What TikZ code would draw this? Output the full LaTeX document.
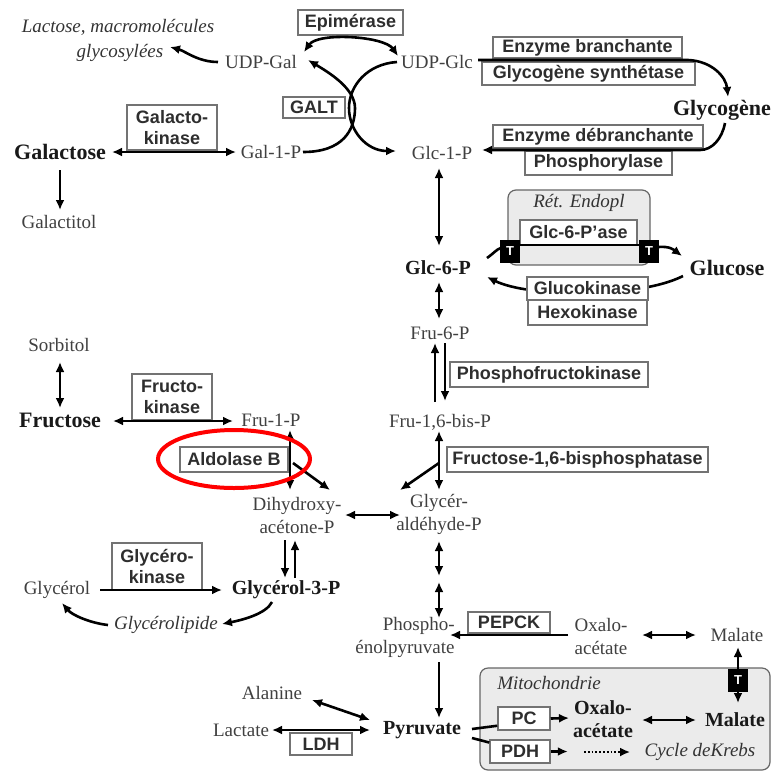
\documentclass[tikz,border=0pt]{standalone}
\usepackage{fontspec}
\setmainfont{Liberation Serif}
\setsansfont{Liberation Sans}
\usetikzlibrary{arrows.meta,calc,shapes.geometric}
\newcommand\fmet{\fontsize{19}{23}\selectfont}
\newcommand\fbig{\fontsize{22}{26}\selectfont\bfseries}
\newcommand\fbold{\fontsize{20}{23}\selectfont\bfseries}
\newcommand\fenz{\sffamily\bfseries\fontsize{18}{21}\selectfont}
\newcommand\fital{\fontsize{19}{23}\selectfont\itshape}
\begin{document}
\begin{tikzpicture}[x=1pt,y=-1pt,
  met/.style={font=\fmet, text=black!75, inner sep=1pt, align=center},
  metb/.style={font=\fbold, text=black!90, inner sep=1pt, align=center},
  metB/.style={font=\fbig, text=black!90, inner sep=1pt},
  metit/.style={font=\fital, text=black!80, inner sep=1pt},
  enzbox/.style={draw=black!55, line width=1.5pt, fill=white, font=\fenz, text=black!82, inner sep=0pt, align=center},
  tbox/.style={fill=black, text=white, font=\sffamily\bfseries\fontsize{13}{13}\selectfont, inner sep=0pt, minimum width=20pt, minimum height=23pt},
  compart/.style={draw=black!60, line width=1.2pt, fill=black!8, rounded corners=8pt, inner sep=0pt},
  arr/.style={line width=2.6pt, -{Latex[length=10pt,width=9pt]}},
  darr/.style={line width=2.6pt, {Latex[length=10pt,width=9pt]}-{Latex[length=10pt,width=9pt]}},
  wire/.style={line width=2.6pt},
  dotarr/.style={line width=1.8pt, dotted, -{Latex[length=10pt,width=9pt]}}
]
\useasboundingbox (0,0) rectangle (776,774);

% compartments
\node[compart, minimum width=142pt, minimum height=75pt] (er) at (579,227.5) {};
\node[compart, minimum width=290pt, minimum height=102pt] (mito) at (625,719) {};
\node[metit] (ertxt) at (579,203) {Rét. Endopl};
\node[metit] (mitotxt) at (549,683) {Mitochondrie};

% metabolites
\node[metit] (lac) at (118,27) {Lactose, macromolécules};
\node[metit] (glyco) at (120,53) {glycosylées};
\node[met] (udpgal) at (261,62) {UDP-Gal};
\node[met] (udpglc) at (437,62) {UDP-Glc};
\node[met] (gal1p) at (271,152) {Gal-1-P};
\node[metB] (galactose) at (60,152) {Galactose};
\node[met] (galactitol) at (59,222) {Galactitol};
\node[metB] (glycogen) at (722,110) {Glycogène};
\node[met] (glc1p) at (442,153) {Glc-1-P};
\node[metb] (glc6p) at (438,268) {Glc-6-P};
\node[metB] (glucose) at (727,268) {Glucose};
\node[met] (fru6p) at (440,333) {Fru-6-P};
\node[met] (fru16bp) at (440,422) {Fru-1,6-bis-P};
\node[met] (gap) at (439,514) {Glycér-\\aldéhyde-P};
\node[met] (dhap) at (297,515) {Dihydroxy-\\acétone-P};
\node[met] (fru1p) at (271,420) {Fru-1-P};
\node[metB] (fructose) at (60,420) {Fructose};
\node[met] (sorbitol) at (59,345) {Sorbitol};
\node[met] (glycerol) at (57,590) {Glycérol};
\node[metb] (g3p) at (286,590) {Glycérol-3-P};
\node[metit] (glipid) at (166,625) {Glycérolipide};
\node[met] (alanine) at (272,693) {Alanine};
\node[met] (lactate) at (241,730) {Lactate};
\node[metb] (pyruvate) at (422,730) {Pyruvate};
\node[met, align=right] (pep) at (405,637) {Phospho-\\énolpyruvate};
\node[met] (oaa) at (601,636) {Oxalo-\\acétate};
\node[met] (malate) at (737,635) {Malate};
\node[metb] (oaam) at (603,719) {Oxalo-\\acétate};
\node[metb] (malm) at (735,720) {Malate};
\node[metit] (krebs) at (700,752) {Cycle deKrebs};

% curve hidden behind glucokinase box
\draw[arr] ($(glucose)+(-44,8)$) .. controls +(-43,22) and +(43,21) .. ($(glc6p)+(49,9)$);

% enzymes
\node[enzbox, minimum width=105pt, minimum height=25pt] (epi) at (350.5,22.5) {Epimérase};
\node[enzbox, minimum width=62pt, minimum height=21pt] (galt) at (314,107.5) {GALT};
\node[enzbox, minimum width=90pt, minimum height=45pt] (galk) at (172,127.5) {Galacto-\\kinase};
\node[enzbox, minimum width=189pt, minimum height=21pt] (eb) at (587.5,47.5) {Enzyme branchante};
\node[enzbox, minimum width=213pt, minimum height=23pt] (gs) at (588.5,73.5) {Glycogène synthétase};
\node[enzbox, minimum width=210pt, minimum height=23pt] (edb) at (598,136.5) {Enzyme débranchante};
\node[enzbox, minimum width=147pt, minimum height=24pt] (phos) at (598.5,163) {Phosphorylase};
\node[enzbox, minimum width=117pt, minimum height=25pt] (g6pase) at (578.5,232.5) {Glc-6-P'ase};
\node[enzbox, minimum width=121pt, minimum height=23pt] (gk) at (587.5,288.5) {Glucokinase};
\node[enzbox, minimum width=119pt, minimum height=25pt] (hk) at (587.5,312.5) {Hexokinase};
\node[enzbox, minimum width=198pt, minimum height=25pt] (pfk) at (549,374.5) {Phosphofructokinase};
\node[enzbox, minimum width=261pt, minimum height=25pt] (fbpase) at (577.5,459.5) {Fructose-1,6-bisphosphatase};
\node[enzbox, minimum width=80pt, minimum height=46pt] (fk) at (172,397) {Fructo-\\kinase};
\node[enzbox, minimum width=108pt, minimum height=25pt] (aldb) at (234,459.5) {Aldolase B};
\node[enzbox, minimum width=90pt, minimum height=47pt] (glyk) at (157,566.5) {Glycéro-\\kinase};
\node[enzbox, minimum width=62pt, minimum height=22pt] (ldh) at (321,744) {LDH};
\node[enzbox, minimum width=82pt, minimum height=21pt] (pepck) at (509,622.5) {PEPCK};
\node[enzbox, minimum width=52pt, minimum height=23pt] (pc) at (524,718.5) {PC};
\node[enzbox, minimum width=60pt, minimum height=23pt] (pdh) at (520,751.5) {PDH};

% transporters of the ER
\node[tbox] (tl) at (510,251) {T};
\node[tbox] (tr) at (649,251) {T};

% top connectors
\draw[arr] ($(udpgal)+(-43,0)$) .. controls +(-20,0) and +(15,4) .. ($(glyco)+(50,-6)$);
\draw[darr] ($(udpgal)+(43,-10)$) .. controls +(14,-20) and +(-14,-20) .. ($(udpglc)+(-39,-6)$);
\draw[arr] ($(gal1p)+(32,0)$) .. controls +(40,0) and +(0,22) .. ($(galt)+(41,0.5)$) .. controls +(0,-20) and +(20,12) .. ($(udpgal)+(47,-2)$);
\draw[arr] ($(udpglc)+(-40,0)$) .. controls +(-30,2) and +(0,-22) .. ($(galt)+(35,0.5)$) .. controls +(0,22) and +(-30,0) .. ($(glc1p)+(-46,-2)$);
\draw[darr] ($(galactose)+(52,0)$) -- ($(gal1p)+(-35,0)$);
\draw[arr] ($(galactose)+(0,18)$) -- ($(galactitol)+(1,-12)$);
\draw[arr] ($(udpglc)+(41,-2)$) -- ($(glycogen)+(-34,-50)$) .. controls +(24,1) and +(-2,-20) .. ($(glycogen)+(6,-13)$);
\draw[arr] ($(glycogen)+(3,13)$) .. controls +(-3,16) and +(12,0) .. ($(glycogen)+(-22,40)$) -- ($(glc1p)+(40,-3)$);
\draw[darr] ($(glc1p)+(-3,15)$) -- ($(glc6p)+(1,-22)$);

% ER transport
\draw[wire] ($(glc6p)+(49,-10)$) .. controls +(6,-4) and +(-4,1) .. ($(tl.west)+(1,-3)$);
\draw[wire] ($(tl.east)+(0,-6)$) -- ($(tr.west)+(0,-6)$);
\draw[arr] ($(tr.east)+(-1,-4)$) .. controls +(12,-1) and +(-8,-6) .. ($(glucose)+(-45,-12)$);

% glycolysis
\draw[darr] ($(glc6p)+(1,14)$) -- ($(fru6p)+(-1,-14)$);
\draw[arr] ($(fru6p)+(5,10)$) -- ($(fru16bp)+(5,-21)$);
\draw[arr] ($(fru16bp)+(-5,-20)$) -- ($(fru6p)+(-5,10)$);
\draw[darr] ($(fru16bp)+(-1,9)$) -- ($(gap)+(0,-24)$);
\draw[arr] ($(fru16bp)+(-1,41)$) -- ($(gap)+(-39,-24)$);

% fructose
\draw[darr] ($(sorbitol)+(1,17)$) -- ($(fructose)+(0,-12)$);
\draw[darr] ($(fructose)+(53,1)$) -- ($(fru1p)+(-38,1)$);
\draw[darr] ($(fru1p)+(19,10)$) -- ($(dhap)+(-7,-25)$);
\draw[arr] ($(fru1p)+(22,43)$) -- ($(dhap)+(33,-25)$);
\draw[darr] ($(dhap)+(48,0)$) -- ($(gap)+(-39,1)$);

% glycerol
\draw[arr] ($(dhap)+(-12,25)$) -- ($(g3p)+(-1,-12)$);
\draw[arr] ($(g3p)+(9,-12)$) -- ($(dhap)+(-2,25)$);
\draw[arr] ($(glycerol)+(43,0)$) -- ($(g3p)+(-64,0)$);
\draw[arr] ($(g3p)+(-14,12)$) .. controls +(-6,12) and +(20,-4) .. ($(glipid)+(56,-1)$);
\draw[arr] ($(glipid)+(-58,0)$) .. controls +(-18,-2) and +(10,12) .. ($(glycerol)+(5,13)$);

% lower part
\draw[darr] ($(gap)+(0,27)$) -- ($(pep)+(34,-61)$);
\draw[darr] ($(pep)+(34,-55)$) -- ($(pep)+(34,-19)$);
\draw[arr] ($(oaa)+(-33,-1)$) -- ($(pep)+(45,-2)$);
\draw[darr] ($(oaa)+(41,-1)$) -- ($(malate)+(-41,0)$);
\draw[darr] ($(malate)+(1,12)$) -- ($(malm)+(3,-17)$);
\draw[arr] ($(pep)+(34,25)$) -- ($(pyruvate)+(17,-12)$);
\draw[darr] ($(alanine)+(40,7)$) -- ($(pyruvate)+(-52,-10)$);
\draw[darr] ($(lactate)+(31,0)$) -- ($(pyruvate)+(-52,0)$);
\draw[wire] ($(pyruvate)+(50,-1)$) -- ($(pc.south west)+(0,-5)$);
\draw[wire] ($(pyruvate)+(50,8)$) -- ($(pdh.west)+(0,-9)$);
\draw[arr] (pc.east) -- ($(oaam)+(-34,-1)$);
\draw[darr] ($(oaam)+(39,1)$) -- ($(malm)+(-39,0)$);
\draw[arr] (pdh.east) -- ($(pdh.east)+(17,0)$);
\draw[dotarr] ($(krebs)+(-116,0)$) -- ($(krebs)+(-70,0)$);

% mitochondrial transporter
\node[tbox] (tm) at (738,680) {T};

% highlight
\node[ellipse, draw=red, line width=4pt, minimum width=152pt, minimum height=58pt, inner sep=0pt] (ring) at (234,459) {};
\end{tikzpicture}
\end{document}
